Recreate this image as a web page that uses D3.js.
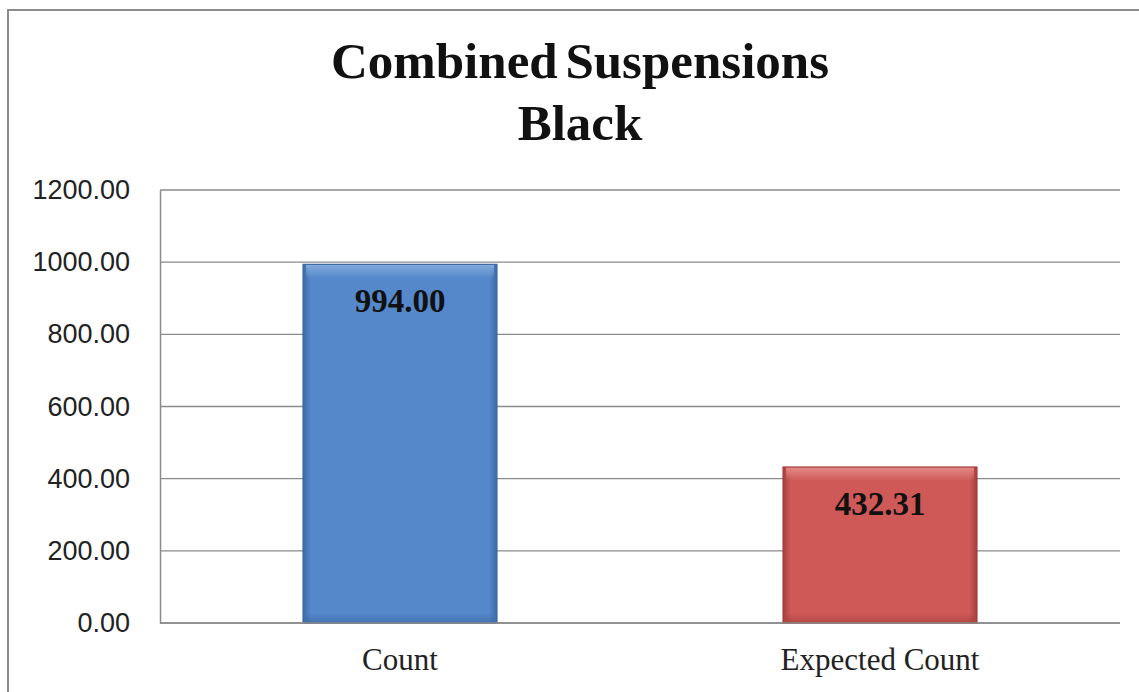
<!DOCTYPE html>
<html>
<head>
<meta charset="utf-8">
<script src="https://cdn.jsdelivr.net/npm/d3@7"></script>
<style>
  html, body { margin: 0; padding: 0; background: #fff; }
  svg { display: block; }
</style>
</head>
<body>
<svg id="chart" width="1139" height="692"></svg>
<script>
// Chart data
const categories = ["Count", "Expected Count"];
const values = [994.00, 432.31];
const yTicks = [0, 200, 400, 600, 800, 1000, 1200];
const titleLines = ["Combined Suspensions", "Black"];

const W = 1139, H = 692;
const plot = { left: 160, right: 1120, top: 190, bottom: 623 };

const svg = d3.select("#chart");

// Bevel gradients for each bar colour
const defs = svg.append("defs");
const palettes = [
  { id: "blue", mid: "#5488CB", edge: "#3D6AA5", light: "#86ABDD", dark: "#3A66A0" },
  { id: "red",  mid: "#CF5957", edge: "#A63F3D", light: "#E48B8A", dark: "#A23C3A" }
];
palettes.forEach(p => {
  const h = defs.append("linearGradient").attr("id", "h-" + p.id)
    .attr("x1", 0).attr("x2", 1).attr("y1", 0).attr("y2", 0);
  h.append("stop").attr("offset", "0%").attr("stop-color", p.edge);
  h.append("stop").attr("offset", "4%").attr("stop-color", p.mid);
  h.append("stop").attr("offset", "96%").attr("stop-color", p.mid);
  h.append("stop").attr("offset", "100%").attr("stop-color", p.edge);
  const v = defs.append("linearGradient").attr("id", "v-" + p.id)
    .attr("x1", 0).attr("x2", 0).attr("y1", 0).attr("y2", 1);
  v.append("stop").attr("offset", "0%").attr("stop-color", p.light).attr("stop-opacity", 1);
  v.append("stop").attr("offset", "100%").attr("stop-color", p.light).attr("stop-opacity", 0);
  const b = defs.append("linearGradient").attr("id", "b-" + p.id)
    .attr("x1", 0).attr("x2", 0).attr("y1", 0).attr("y2", 1);
  b.append("stop").attr("offset", "0%").attr("stop-color", p.dark).attr("stop-opacity", 0);
  b.append("stop").attr("offset", "100%").attr("stop-color", p.dark).attr("stop-opacity", 1);
});

// Outer chart frame
svg.append("rect")
  .attr("x", 8).attr("y", 10).attr("width", W).attr("height", H)
  .attr("fill", "#fff").attr("stroke", "#8c8c8c").attr("stroke-width", 2);

// Scales
const x = d3.scaleBand().domain(categories)
  .range([plot.left, plot.right]).paddingInner(0.596).paddingOuter(0.298);
const y = d3.scaleLinear().domain([0, 1200]).range([plot.bottom, plot.top]);

// Gridlines
svg.append("g")
  .selectAll("line").data(yTicks).join("line")
  .attr("x1", plot.left).attr("x2", plot.right)
  .attr("y1", d => y(d)).attr("y2", d => y(d))
  .attr("stroke", "#8a8a8a").attr("stroke-width", 1.3);

// Y axis
const yAxis = svg.append("g")
  .attr("transform", `translate(${plot.left},0)`)
  .call(d3.axisLeft(y).tickValues(yTicks).tickSize(0).tickPadding(30)
    .tickFormat(d3.format(".2f")));
yAxis.select(".domain").attr("stroke", "#8a8a8a").attr("stroke-width", 1.5);
yAxis.selectAll("text")
  .attr("font-family", "'Liberation Sans', Arial, sans-serif")
  .attr("font-size", 27).attr("fill", "#222");

// Bars with bevel
const bars = svg.append("g").selectAll("g").data(categories).join("g");
bars.each(function(c, i) {
  const g = d3.select(this);
  const p = palettes[i];
  const x0 = x(c), bw = x.bandwidth();
  const yt = y(values[i]), hgt = y(0) - y(values[i]);
  g.append("rect").attr("x", x0).attr("y", yt).attr("width", bw).attr("height", hgt)
    .attr("fill", `url(#h-${p.id})`);
  g.append("rect").attr("x", x0 + 3).attr("y", yt).attr("width", bw - 6).attr("height", 14)
    .attr("fill", `url(#v-${p.id})`);
  g.append("rect").attr("x", x0 + 3).attr("y", y(0) - 10).attr("width", bw - 6).attr("height", 10)
    .attr("fill", `url(#b-${p.id})`).attr("opacity", 0.6);
  g.append("rect").attr("x", x0).attr("y", yt).attr("width", bw).attr("height", hgt)
    .attr("fill", "none").attr("stroke", p.dark).attr("stroke-width", 1.2);
});

// X axis baseline
svg.append("line")
  .attr("x1", plot.left).attr("x2", plot.right)
  .attr("y1", y(0)).attr("y2", y(0))
  .attr("stroke", "#8a8a8a").attr("stroke-width", 1.5);

// Category labels
svg.append("g").selectAll("text").data(categories).join("text")
  .attr("x", d => x(d) + x.bandwidth() / 2)
  .attr("y", 670)
  .attr("text-anchor", "middle")
  .attr("font-family", "'Liberation Serif', 'Times New Roman', serif")
  .attr("font-size", 31).attr("fill", "#222")
  .text(d => d);

// Value labels inside bar tops
svg.append("g").selectAll("text").data(categories).join("text")
  .attr("x", d => x(d) + x.bandwidth() / 2)
  .attr("y", (d, i) => y(values[i]) + 48)
  .attr("text-anchor", "middle")
  .attr("font-family", "'Liberation Serif', 'Times New Roman', serif")
  .attr("font-weight", "bold")
  .attr("font-size", 33).attr("fill", "#111")
  .text((d, i) => d3.format(".2f")(values[i]));

// Title
svg.append("g").selectAll("text").data(titleLines).join("text")
  .attr("x", 580)
  .attr("y", (d, i) => 78 + i * 62)
  .attr("text-anchor", "middle")
  .attr("font-family", "'Liberation Serif', 'Times New Roman', serif")
  .attr("font-weight", "bold")
  .attr("font-size", 51).attr("fill", "#111")
  .attr("word-spacing", -5)
  .text(d => d);
</script>
</body>
</html>
